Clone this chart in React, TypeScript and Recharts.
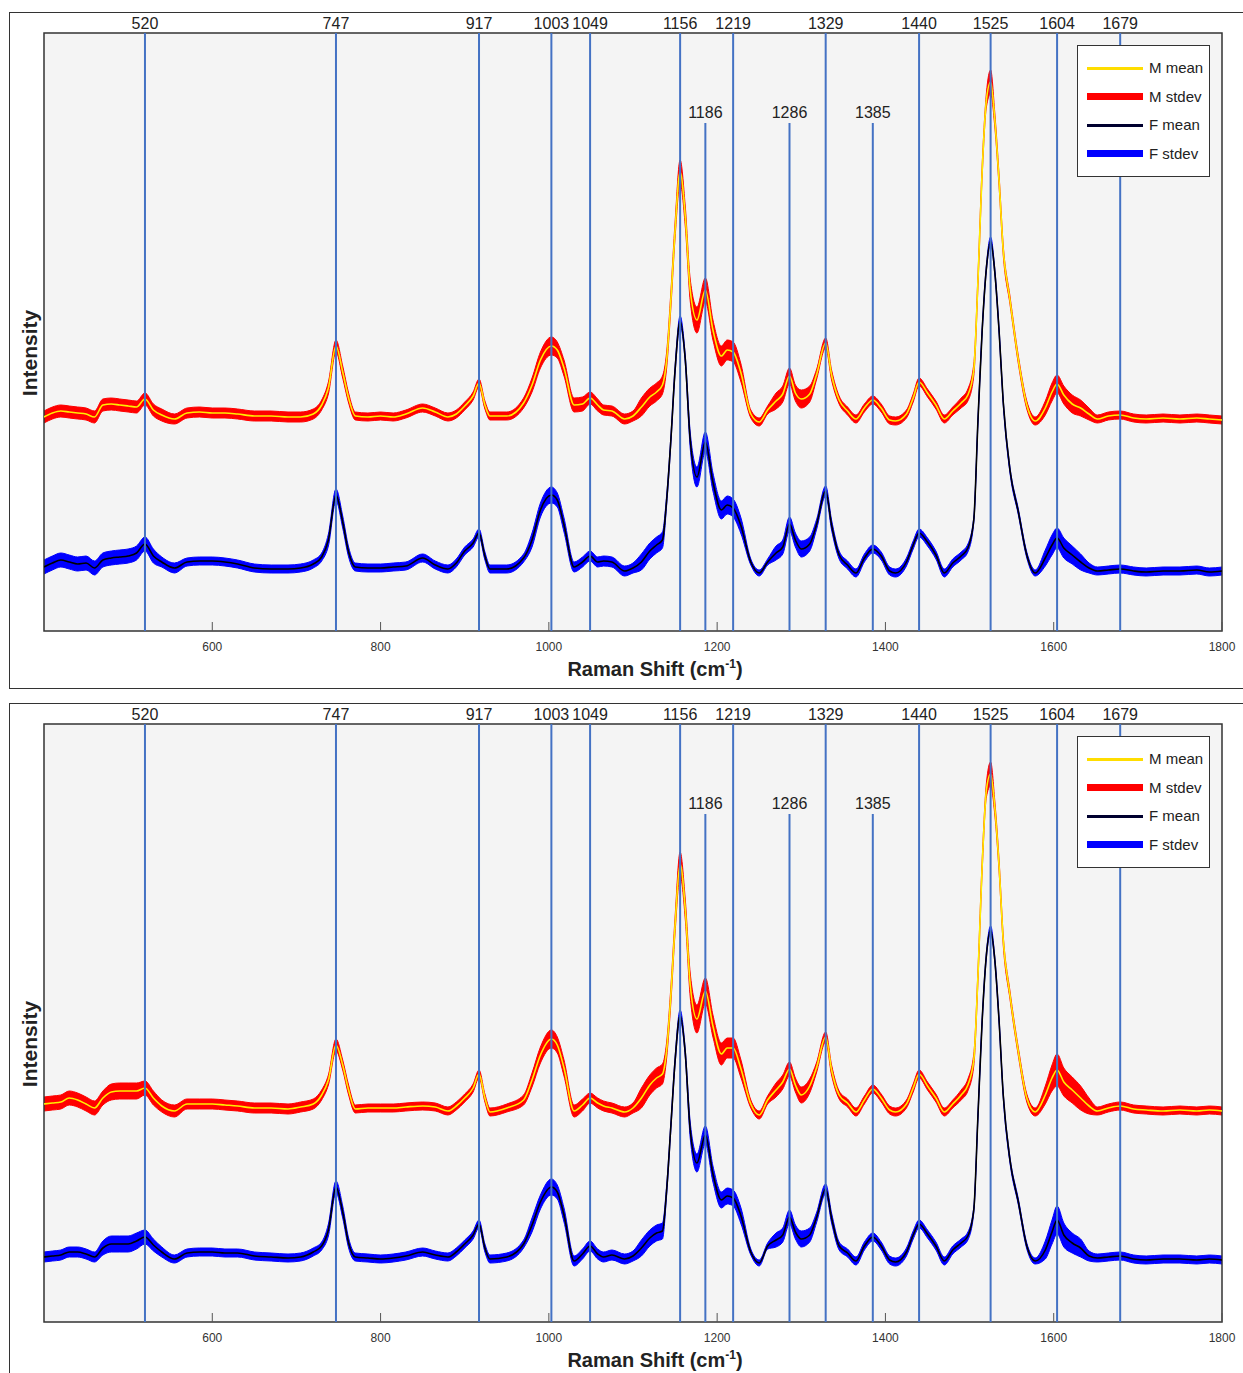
import React from "react";
import {
  ComposedChart,
  Area,
  Line,
  XAxis,
  YAxis,
  ReferenceLine,
  ReferenceArea,
} from "recharts";

// Raman shift sample positions (cm-1), shared by every series
const SHIFT = [
  400, 410, 420, 430, 440, 450, 460, 470, 480, 490,
  500, 510, 520, 530, 540, 555, 570, 585, 600, 615,
  630, 650, 670, 690, 705, 720, 730, 738, 747, 755,
  762, 770, 785, 800, 815, 830, 850, 865, 880, 890,
  900, 910, 917, 924, 930, 950, 970, 980, 990, 1003,
  1010, 1018, 1030, 1040, 1049, 1058, 1065, 1075, 1090, 1100,
  1110, 1120, 1128, 1135, 1140, 1145, 1150, 1156, 1162, 1168,
  1176, 1186, 1195, 1205, 1212, 1219, 1228, 1240, 1250, 1260,
  1270, 1278, 1286, 1293, 1300, 1310, 1318, 1329, 1336, 1345,
  1355, 1365, 1375, 1385, 1395, 1405, 1412, 1425, 1433, 1440,
  1450, 1460, 1470, 1480, 1490, 1498, 1505, 1510, 1515, 1520,
  1525, 1530, 1535, 1540, 1548, 1558, 1568, 1578, 1590, 1598,
  1604, 1612, 1622, 1632, 1642, 1652, 1665, 1679, 1695, 1710,
  1730, 1750, 1770, 1785, 1800,
];

// Top panel
const M1_MEAN = [
  214, 218, 220, 219, 218, 217, 214, 226, 227, 226,
  225, 224, 232, 221, 216, 212, 218, 219, 218, 218,
  217, 215, 215, 214, 214, 217, 226, 243, 285, 259,
  233, 215, 214, 215, 214, 217, 223, 219, 214, 217,
  225, 235, 248, 226, 215, 215, 228, 246, 271, 285,
  281, 263, 226, 227, 233, 226, 221, 220, 212, 215,
  224, 234, 239, 246, 271, 331, 401, 459, 416, 341,
  311, 341, 301, 275, 281, 279, 259, 217, 209, 221,
  230, 237, 255, 238, 232, 237, 256, 288, 256, 231,
  220, 212, 223, 231, 223, 211, 210, 217, 233, 249,
  238, 226, 212, 220, 228, 236, 261, 351, 461, 531,
  549, 511, 451, 381, 331, 271, 226, 210, 223, 239,
  247, 236, 227, 223, 217, 212, 215, 216, 213, 212,
  213, 212, 213, 212, 211,
];
const M1_SD = [
  6, 6, 6, 6, 6, 6, 6, 6, 6, 6,
  6, 6, 6, 6, 6, 5, 5, 5, 5, 5,
  5, 5, 5, 5, 5, 5, 5, 6, 6, 6,
  5, 4, 4, 4, 4, 4, 4, 4, 4, 4,
  4, 4, 4, 4, 4, 4, 5, 7, 8, 9,
  8, 8, 7, 7, 6, 6, 5, 5, 5, 5,
  9, 9, 9, 9, 8, 8, 8, 12, 10, 11,
  13, 12, 10, 10, 10, 10, 9, 4, 4, 4,
  8, 8, 8, 8, 9, 8, 5, 5, 5, 4,
  4, 4, 4, 4, 4, 4, 4, 4, 4, 4,
  4, 4, 4, 4, 5, 6, 6, 6, 6, 7,
  12, 7, 6, 5, 4, 4, 4, 4, 7, 9,
  9, 9, 9, 8, 6, 4, 4, 4, 4, 4,
  4, 4, 4, 4, 4,
];
const F1_MEAN = [
  64, 68, 71, 69, 67, 68, 63, 71, 73, 74,
  75, 78, 87, 75, 69, 63, 69, 70, 70, 69,
  67, 63, 62, 62, 63, 67, 74, 91, 136, 109,
  79, 64, 63, 63, 64, 65, 73, 66, 62, 68,
  80, 88, 98, 75, 62, 62, 73, 91, 121, 136,
  131, 106, 64, 69, 75, 69, 70, 69, 60, 63,
  69, 80, 86, 91, 131, 191, 261, 310, 273, 191,
  154, 189, 149, 121, 126, 123, 106, 69, 58, 69,
  78, 84, 107, 91, 82, 87, 106, 140, 106, 76,
  66, 58, 73, 82, 75, 60, 58, 69, 86, 98,
  89, 76, 58, 68, 75, 83, 111, 211, 301, 363,
  390, 359, 301, 229, 161, 119, 76, 58, 73, 86,
  93, 83, 76, 69, 63, 60, 61, 62, 60, 59,
  60, 60, 61, 59, 60,
];
const F1_SD = [
  7, 7, 7, 7, 7, 7, 7, 7, 7, 7,
  7, 7, 7, 7, 5, 5, 4, 4, 4, 4,
  4, 4, 4, 4, 4, 4, 4, 6, 6, 6,
  5, 4, 4, 4, 4, 4, 4, 4, 4, 4,
  4, 4, 4, 4, 4, 4, 4, 7, 7, 8,
  7, 7, 5, 5, 5, 5, 5, 5, 5, 5,
  8, 8, 8, 8, 5, 4, 4, 5, 4, 8,
  10, 10, 9, 9, 9, 9, 8, 3, 3, 3,
  7, 7, 7, 7, 8, 7, 5, 5, 5, 4,
  4, 4, 4, 4, 4, 4, 4, 4, 4, 4,
  4, 4, 4, 4, 4, 4, 3, 3, 3, 3,
  4, 3, 3, 3, 3, 3, 3, 3, 8, 10,
  10, 10, 9, 8, 5, 4, 4, 4, 4, 4,
  4, 4, 4, 4, 4,
];

// Bottom panel
const M2_MEAN = [
  218, 219, 220, 224, 222, 218, 214, 224, 230, 231,
  231, 231, 234, 224, 216, 211, 218, 218, 218, 217,
  216, 214, 214, 213, 215, 218, 227, 242, 277, 257,
  232, 213, 214, 214, 214, 215, 216, 215, 211, 216,
  224, 234, 248, 224, 210, 214, 222, 242, 267, 283,
  277, 254, 211, 217, 224, 219, 216, 214, 210, 214,
  224, 237, 244, 248, 272, 327, 397, 458, 414, 337,
  303, 331, 296, 268, 274, 274, 254, 218, 207, 222,
  232, 240, 253, 237, 227, 236, 254, 285, 252, 227,
  219, 210, 222, 233, 224, 212, 210, 218, 234, 248,
  236, 224, 210, 218, 227, 237, 262, 347, 457, 532,
  548, 514, 457, 382, 327, 270, 224, 210, 227, 244,
  252, 240, 232, 224, 216, 211, 214, 216, 213, 212,
  211, 212, 211, 212, 211,
];
const M2_SD = [
  7, 7, 7, 7, 7, 7, 7, 7, 8, 8,
  8, 8, 7, 7, 6, 6, 5, 5, 5, 5,
  5, 5, 5, 5, 5, 5, 5, 5, 6, 5,
  5, 4, 4, 4, 4, 4, 4, 4, 4, 4,
  4, 4, 4, 4, 4, 4, 5, 7, 8, 9,
  8, 8, 6, 6, 5, 5, 5, 5, 5, 5,
  10, 10, 10, 10, 8, 8, 8, 12, 10, 12,
  14, 13, 11, 11, 10, 10, 9, 4, 4, 4,
  7, 7, 7, 7, 8, 7, 5, 5, 5, 4,
  4, 4, 4, 4, 4, 4, 4, 4, 4, 4,
  4, 4, 4, 4, 5, 6, 6, 6, 6, 7,
  12, 7, 6, 5, 4, 4, 4, 4, 9, 13,
  16, 14, 13, 12, 8, 4, 4, 4, 4, 4,
  4, 4, 4, 4, 4,
];
const F2_MEAN = [
  65, 66, 67, 70, 70, 68, 65, 74, 78, 78,
  78, 81, 85, 77, 70, 63, 69, 70, 70, 69,
  69, 66, 65, 64, 65, 70, 76, 92, 135, 110,
  79, 65, 64, 63, 64, 66, 70, 67, 65, 70,
  78, 87, 98, 74, 63, 65, 78, 97, 120, 135,
  130, 107, 61, 68, 76, 68, 65, 67, 63, 66,
  74, 84, 89, 91, 132, 196, 261, 307, 270, 192,
  159, 187, 148, 122, 126, 124, 107, 70, 59, 76,
  82, 87, 105, 90, 83, 87, 104, 133, 104, 76,
  69, 61, 76, 85, 76, 62, 60, 70, 87, 98,
  88, 76, 61, 72, 79, 86, 112, 207, 302, 367,
  392, 362, 302, 227, 162, 120, 76, 61, 72, 90,
  102, 87, 79, 74, 66, 64, 65, 66, 63, 62,
  63, 63, 62, 63, 62,
];
const F2_SD = [
  5, 5, 5, 5, 5, 5, 5, 7, 8, 8,
  8, 8, 7, 6, 5, 4, 4, 4, 4, 4,
  4, 4, 4, 4, 4, 4, 4, 6, 6, 6,
  5, 4, 4, 4, 4, 4, 4, 4, 4, 4,
  4, 4, 4, 4, 4, 4, 4, 7, 7, 8,
  7, 7, 5, 5, 5, 5, 5, 5, 5, 5,
  8, 8, 8, 8, 5, 4, 4, 5, 4, 8,
  9, 9, 8, 8, 8, 8, 8, 3, 3, 3,
  7, 7, 7, 7, 8, 7, 5, 5, 5, 4,
  4, 4, 4, 4, 4, 4, 4, 4, 4, 4,
  4, 4, 4, 4, 4, 4, 3, 3, 3, 3,
  4, 3, 3, 3, 3, 3, 3, 3, 9, 12,
  14, 12, 10, 9, 5, 4, 4, 4, 4, 4,
  4, 4, 4, 4, 4,
];

// Peak markers: labelled above the plot, and shorter ones labelled inside
const TOP_PEAKS = [520, 747, 917, 1003, 1049, 1156, 1219, 1329, 1440, 1525, 1604, 1679];
const INNER_PEAKS = [1186, 1286, 1385];
const INNER_TOP = 508;
const X_TICKS = [600, 800, 1000, 1200, 1400, 1600, 1800];

const LEGEND = [
  { name: "M mean", color: "#ffdd00", h: 3 },
  { name: "M stdev", color: "#ff0000", h: 7 },
  { name: "F mean", color: "#00002e", h: 3 },
  { name: "F stdev", color: "#0000ff", h: 7 },
];

const Y_MAX = 598;
const PEAK_COLOR = "#4472c4";
const FONT = "'Liberation Sans', Arial, sans-serif";

const buildRows = (m: number[], mSd: number[], f: number[], fSd: number[]) =>
  SHIFT.map((x, i) => ({
    x,
    m: m[i],
    mBand: [m[i] - mSd[i], m[i] + mSd[i]],
    f: f[i],
    fBand: [f[i] - fSd[i], f[i] + fSd[i]],
  }));

const XTick = (props: any) => {
  const { x, y, payload } = props;
  return (
    <g>
      <line x1={x} x2={x} y1={y} y2={y - 9} stroke="#555" strokeWidth={1} />
      <text x={x} y={y + 20} textAnchor="middle" fontSize={12} fill="#333">
        {payload.value}
      </text>
    </g>
  );
};

const XTitle = () => (
  <text x={655} y={676} textAnchor="middle" fontSize={20} fontWeight="bold" fill="#222">
    Raman Shift (cm
    <tspan dy={-8} fontSize={12}>-1</tspan>
    <tspan dy={8}>)</tspan>
  </text>
);

const YTitle = () => (
  <text
    x={37}
    y={353}
    transform="rotate(-90, 37, 353)"
    textAnchor="middle"
    fontSize={21}
    fontWeight="bold"
    fill="#222"
  >
    Intensity
  </text>
);

const LegendBox = () => (
  <div
    style={{
      position: "absolute",
      left: 1077,
      top: 45,
      width: 131,
      height: 130,
      border: "1.5px solid #333",
      background: "#fff",
    }}
  >
    {LEGEND.map((item, i) => (
      <div
        key={item.name}
        style={{ position: "absolute", left: 0, top: 22 + i * 28.5 - 10, height: 20, width: 131 }}
      >
        <div
          style={{
            position: "absolute",
            left: 9,
            top: 10 - item.h / 2,
            width: 56,
            height: item.h,
            background: item.color,
          }}
        />
        <div style={{ position: "absolute", left: 71, top: 1, fontSize: 15, color: "#222", whiteSpace: "nowrap" }}>
          {item.name}
        </div>
      </div>
    ))}
  </div>
);

const Panel = ({ top, rows }: { top: number; rows: any[] }) => (
  <div style={{ position: "absolute", left: 0, top, width: 1243, height: 690 }}>
    <ComposedChart
      width={1243}
      height={690}
      data={rows}
      margin={{ top: 33, right: 21, bottom: 29, left: 0 }}
    >
      <XAxis
        dataKey="x"
        type="number"
        domain={[400, 1800]}
        ticks={X_TICKS}
        allowDataOverflow
        axisLine={false}
        tickLine={false}
        tickSize={0}
        tickMargin={0}
        height={30}
        tick={<XTick />}
        label={<XTitle />}
      />
      <YAxis
        type="number"
        domain={[0, Y_MAX]}
        allowDataOverflow
        width={44}
        tick={false}
        axisLine={false}
        tickLine={false}
        label={<YTitle />}
      />
      {/* plot background */}
      <ReferenceArea x1={400} x2={1800} y1={0} y2={Y_MAX} fill="#f4f4f4" fillOpacity={1} stroke="none" />

      <Area dataKey="mBand" type="monotone" fill="#ff0000" fillOpacity={1} stroke="#ff0000" strokeWidth={1} isAnimationActive={false} />
      <Line dataKey="m" type="monotone" stroke="#ffee00" strokeWidth={1.6} dot={false} isAnimationActive={false} />
      <Area dataKey="fBand" type="monotone" fill="#0000ff" fillOpacity={1} stroke="#0000ff" strokeWidth={1} isAnimationActive={false} />
      <Line dataKey="f" type="monotone" stroke="#000000" strokeWidth={1.6} dot={false} isAnimationActive={false} />

      {TOP_PEAKS.map((p) => (
        <ReferenceLine
          key={p}
          x={p}
          stroke={PEAK_COLOR}
          strokeWidth={2}
          label={{ value: String(p), position: "top", fontSize: 16, fill: "#222", offset: 4 }}
        />
      ))}
      {INNER_PEAKS.map((p) => (
        <ReferenceLine
          key={p}
          segment={[
            { x: p, y: INNER_TOP },
            { x: p, y: 0 },
          ]}
          stroke={PEAK_COLOR}
          strokeWidth={2}
          label={{ value: String(p), position: "top", fontSize: 16, fill: "#222", offset: 5 }}
        />
      ))}

      {/* plot frame */}
      <ReferenceArea x1={400} x2={1800} y1={0} y2={Y_MAX} fill="none" stroke="#333" strokeWidth={1.5} />
    </ComposedChart>
    <LegendBox />
  </div>
);

const App: React.FC = () => {
  const rowsTop = buildRows(M1_MEAN, M1_SD, F1_MEAN, F1_SD);
  const rowsBottom = buildRows(M2_MEAN, M2_SD, F2_MEAN, F2_SD);

  return (
    <div
      style={{
        position: "absolute",
        left: 0,
        top: 0,
        width: 1243,
        height: 1373,
        overflow: "hidden",
        background: "#fff",
        fontFamily: FONT,
      }}
    >
      {/* outer frames of the two figure panels */}
      <div style={{ position: "absolute", left: 9, top: 12, width: 1250, height: 675, border: "1.5px solid #333" }} />
      <div style={{ position: "absolute", left: 9, top: 703, width: 1250, height: 700, border: "1.5px solid #333" }} />

      <Panel top={0} rows={rowsTop} />
      <Panel top={691} rows={rowsBottom} />
    </div>
  );
};

export default App;
